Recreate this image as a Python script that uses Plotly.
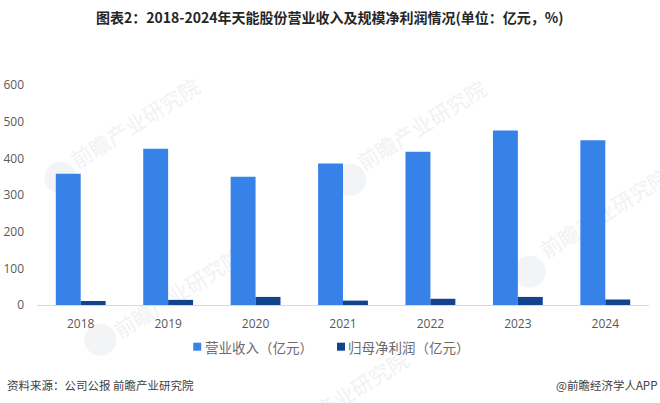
import plotly.graph_objects as go

years = ["2018", "2019", "2020", "2021", "2022", "2023", "2024"]
revenue = [358, 426, 350, 386, 418, 476, 449]
net_profit = [11, 14, 22, 12, 17, 22, 15]
y_ticks = [0, 100, 200, 300, 400, 500, 600]

title_text = "图表2\uff1a2018-2024年天能股份营业收入及规模净利润情况(单位\uff1a亿元\uff0c%)"
source_text = "资料来源\uff1a公司公报 前瞻产业研究院"
brand_text = "@前瞻经济学人APP"
watermark_text = "前瞻产业研究院"
revenue_name = "营业收入\uff08亿元\uff09"
profit_name = "归母净利润\uff08亿元\uff09"

W, H = 660, 403
LEFT, RIGHT, TOP, BOTTOM = 36.5, 649.5, 85.3, 305.3
CJK = "Noto Sans CJK SC"
WM_COLOR = "#f0f2f4"
REVENUE_COLOR = "#3782E8"
PROFIT_COLOR = "#10448F"

# watermark stamps: text centre and logo centre, in page pixels
wm_text_pos = [(144, 141), (431, 143), (614, 231), (187, 311), (353, 414)]
wm_logo_pos = [(60, 178), (350, 180), (530, 272), (100, 340)]


# paper coordinates run over the plot area, so convert from page pixels
def px(x):
    return (x - LEFT) / (RIGHT - LEFT)


def py(y):
    return (BOTTOM - y) / (BOTTOM - TOP)


def page_text(text, x, y, anchor, size, color, **font):
    return dict(text=text, xref="paper", yref="paper", x=px(x), y=py(y), showarrow=False,
                xanchor=anchor, yanchor="middle",
                font=dict(family=CJK, size=size, color=color, **font))


fig = go.Figure()

fig.add_trace(go.Bar(x=years, y=revenue, name=revenue_name, marker=dict(color=REVENUE_COLOR, line_width=0)))
fig.add_trace(go.Bar(x=years, y=net_profit, name=profit_name, marker=dict(color=PROFIT_COLOR, line_width=0)))

# watermark goes under the bars, so it is built from shape labels
shapes = []
for cx, cy in wm_text_pos:
    shapes.append(dict(
        type="line", xref="paper", yref="paper", layer="below",
        x0=px(cx - 64), x1=px(cx + 64), y0=py(cy + 40), y1=py(cy - 40),
        line=dict(color="rgba(0,0,0,0)", width=0),
        label=dict(text=watermark_text, textangle=-32, textposition="middle",
                   font=dict(family=CJK, size=21, color=WM_COLOR)),
    ))
for cx, cy in wm_logo_pos:
    shapes.append(dict(
        type="circle", xref="paper", yref="paper", layer="below",
        x0=px(cx - 16), x1=px(cx + 16), y0=py(cy + 16), y1=py(cy - 16),
        fillcolor="#f3f4f6", line_width=0,
    ))

# legend swatches sit tight against their labels, closer than plotly's legend allows
for x0, color in [(193, REVENUE_COLOR), (337, PROFIT_COLOR)]:
    shapes.append(dict(
        type="rect", xref="paper", yref="paper",
        x0=px(x0), x1=px(x0 + 8), y0=py(351), y1=py(343),
        fillcolor=color, line_width=0,
    ))

fig.update_layout(
    width=W, height=H,
    margin=dict(l=LEFT, r=W - RIGHT, t=TOP, b=H - BOTTOM),
    paper_bgcolor="white", plot_bgcolor="rgba(0,0,0,0)",
    barmode="group", bargap=0.43, bargroupgap=0,
    font=dict(family="Open Sans", size=12, color="#595959"),
    shapes=shapes,
    showlegend=False,
    annotations=[
        page_text(title_text, 330, 17.5, "center", 14, "#262626", weight="bold"),
        page_text(revenue_name, 203, 347, "left", 13.5, "#6b6b6b"),
        page_text(profit_name, 346, 347, "left", 13.5, "#6b6b6b"),
        page_text(source_text, 4, 385, "left", 11.5, "#404040"),
        page_text(brand_text, 660, 385, "right", 11.5, "#404040"),
    ],
)
fig.update_xaxes(
    type="category", showgrid=False, showline=True, linecolor="#D9D9D9", linewidth=1,
    ticks="", ticklabelstandoff=8, automargin=False,
    tickfont=dict(family="Open Sans", size=12, color="#595959"),
)
fig.update_yaxes(
    range=[0, 600], tickvals=y_ticks, showgrid=False, zeroline=False, showline=False,
    ticks="", ticklabelstandoff=12, automargin=False,
    tickfont=dict(family="Open Sans", size=12, color="#595959"),
)

# the page's default body margin would shift the whole chart by 8px
fig.write_html("out.html", config=dict(displayModeBar=False),
               post_script="document.body.style.margin = '0';")
